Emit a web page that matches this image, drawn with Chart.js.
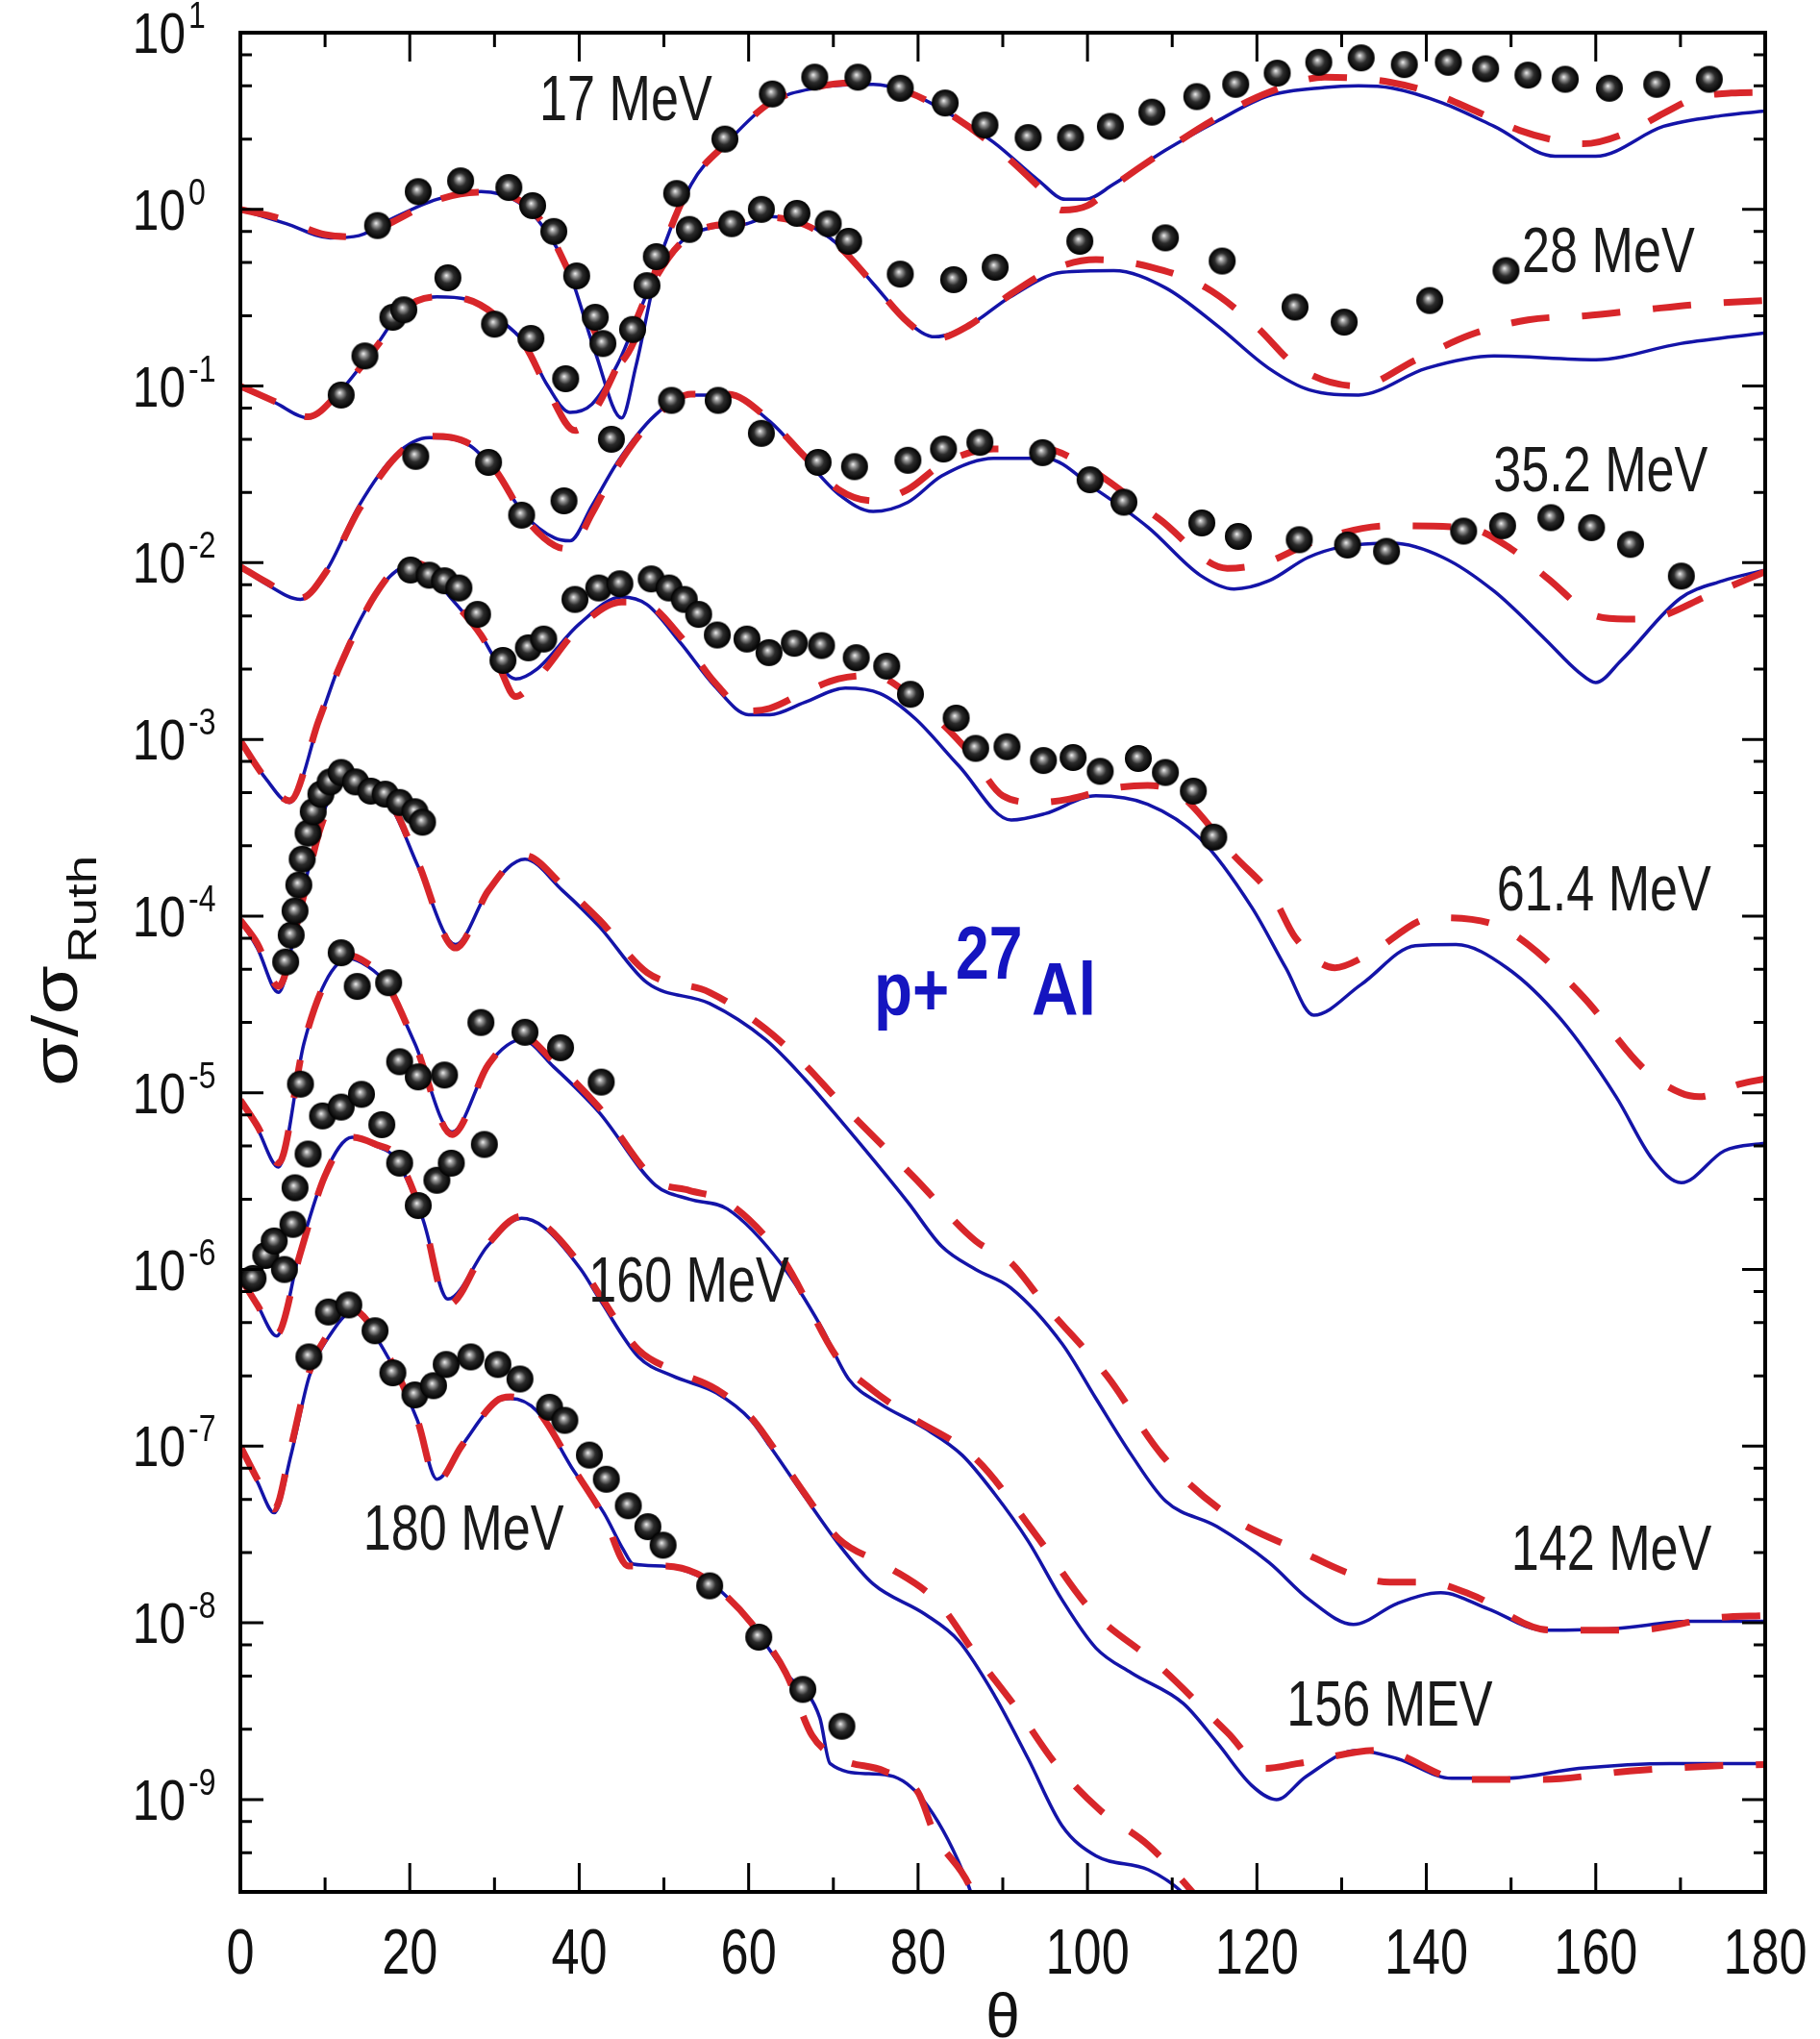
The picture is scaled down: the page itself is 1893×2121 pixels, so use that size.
<!DOCTYPE html>
<html>
<head>
<meta charset="utf-8">
<script src="https://cdn.jsdelivr.net/npm/chart.js@4.4.0/dist/chart.umd.min.js"></script>
<style>
  html, body { margin: 0; padding: 0; background: #fff; }
  canvas { display: block; }
</style>
</head>
<body>
<canvas id="xsChart" width="1893" height="2121"></canvas>
<script>
// p + 27Al elastic scattering, sigma/sigma_Ruth vs theta (each energy shifted by a decade)
// pairs are [theta (deg), sigma/sigmaRuth]

// 17 MeV
const exp17 = [[16.2,0.81],[21,1.26],[26,1.45],[31.7,1.33],[34.5,1.05],[37,0.75],[39.7,0.42],[41.9,0.245],[42.8,0.174],[51.5,1.23],[57.2,2.5],[62.8,4.5],[67.8,5.6],[72.9,5.6],[77.9,4.85],[83.2,4.0],[87.9,3.0],[93,2.55],[98,2.55],[102.7,2.95],[107.6,3.55],[112.9,4.35],[117.5,5.1],[122.4,5.9],[127.3,6.8],[132.3,7.2],[137.4,6.6],[142.6,6.8],[147,6.25],[152,5.75],[156.4,5.45],[161.6,4.85],[167.2,5.1],[173.4,5.45]];
const blue17 = [[0,1.0],[5.4,0.83],[10.6,0.69],[14,0.71],[18,0.89],[23.2,1.14],[28.4,1.26],[32.8,1.1],[35.8,0.79],[38.9,0.43],[41.9,0.155],[45,0.066],[46.7,0.13],[49.3,0.48],[53.2,1.38],[57.5,2.4],[62.5,4.0],[67.8,4.85],[74.7,5.1],[78.8,4.6],[83.6,3.5],[88.9,2.4],[94.2,1.46],[97.4,1.14],[99.8,1.14],[103,1.38],[109.2,2.16],[115.3,3.16],[121.4,4.4],[128,4.9],[132,5.0],[136,4.85],[141.9,4.0],[148,2.95],[155.2,2.0],[160,2.0],[168,2.95],[175,3.4],[180,3.6]];
const red17 = [[0,1.0],[5,0.88],[10,0.72],[14,0.7],[18,0.85],[23,1.12],[28,1.25],[33,1.12],[36,0.8],[39,0.42],[41.9,0.2],[44,0.13],[46.5,0.18],[49.3,0.5],[53.2,1.4],[57.5,2.4],[62.5,4.0],[67.8,4.9],[72,5.2],[78.8,4.6],[83.6,3.5],[88.9,2.3],[94.2,1.35],[97,0.99],[100,1.05],[103,1.35],[109.2,2.16],[115.3,3.3],[121.4,4.6],[128,5.6],[135.7,5.25],[141,4.5],[145.8,3.6],[151,2.8],[155.4,2.45],[158.5,2.35],[164.3,2.8],[168,3.5],[172,4.3],[176,4.55],[180,4.6]];

// 28 MeV (x 0.1)
const exp28 = [[11.9,0.089],[14.7,0.148],[18,0.245],[19.3,0.27],[24.5,0.41],[30,0.224],[34.3,0.186],[38.4,0.11],[46.3,0.209],[48,0.37],[49.1,0.54],[53,0.77],[58,0.83],[61.5,1.0],[65.7,0.95],[69.4,0.83],[71.8,0.66],[77.9,0.43],[84.2,0.4],[89.1,0.47],[99.1,0.66],[109.2,0.69],[115.9,0.51],[124.5,0.28],[130.3,0.23],[140.4,0.305],[149.4,0.45]];
const blue28 = [[0,0.098],[4,0.081],[8,0.066],[11.9,0.095],[16.2,0.174],[19.2,0.275],[23.2,0.32],[26.7,0.31],[30.2,0.245],[33.6,0.174],[36.3,0.1],[38.9,0.071],[41.5,0.079],[44.5,0.132],[48.9,0.41],[53.2,0.72],[59.8,0.83],[62.5,0.91],[66.6,0.83],[70.6,0.63],[74.7,0.38],[78.8,0.23],[82,0.19],[86,0.22],[90.9,0.32],[97,0.44],[103.1,0.45],[109.2,0.36],[115.3,0.22],[121.4,0.126],[126.2,0.095],[132,0.089],[140,0.126],[148,0.148],[160,0.141],[170,0.174],[180,0.2]];
const red28 = [[0,0.1],[4,0.082],[8,0.067],[11.9,0.095],[16.2,0.17],[19.2,0.27],[23.2,0.32],[26.7,0.31],[30.2,0.25],[33.6,0.17],[36.3,0.095],[39.5,0.056],[42,0.075],[44.5,0.13],[48.9,0.4],[53.2,0.72],[59.8,0.85],[62.5,0.9],[66.6,0.82],[70.6,0.62],[74.7,0.38],[78.8,0.23],[82,0.185],[86,0.22],[90.9,0.33],[96,0.46],[101,0.52],[107.6,0.47],[114,0.36],[119.8,0.22],[125,0.126],[132,0.1],[138.8,0.141],[145.2,0.195],[152,0.237],[158.8,0.25],[165.6,0.27],[172,0.29],[180,0.305]];

// 35.2 MeV (x 0.01)
const exp35 = [[20.7,0.04],[29.3,0.037],[33.2,0.0186],[38.2,0.0224],[43.8,0.05],[50.9,0.083],[56.4,0.083],[61.5,0.054],[68.2,0.037],[72.5,0.035],[78.8,0.038],[83,0.044],[87.3,0.048],[94.7,0.042],[100.3,0.0295],[104.3,0.022],[113.5,0.0168],[117.8,0.0141],[125,0.0135],[130.7,0.0126],[135.3,0.0116],[144.4,0.0151],[149,0.0162],[154.7,0.018],[159.5,0.0158],[164.1,0.0127],[170.1,0.0084]];
const blue35 = [[0,0.0095],[3,0.0076],[7.1,0.0062],[10.2,0.0091],[14,0.021],[18.4,0.041],[22.3,0.051],[27.1,0.046],[30.2,0.032],[33.6,0.0186],[37.1,0.0138],[38.9,0.0133],[41.5,0.021],[44.5,0.037],[48.9,0.068],[53.2,0.089],[57.5,0.089],[62.5,0.063],[66.6,0.039],[70.6,0.0245],[74.7,0.0195],[78.8,0.022],[82.8,0.031],[88.9,0.039],[95,0.039],[101,0.026],[107.2,0.0158],[113.3,0.0085],[117.3,0.0071],[121.4,0.0079],[126,0.0107],[130,0.0123],[136,0.0129],[142,0.0107],[148,0.0069],[154,0.0037],[158,0.0024],[160,0.0021],[163,0.0028],[170,0.0063],[175,0.0079],[180,0.0091]];
const red35 = [[0,0.0095],[3,0.0078],[7.1,0.0063],[10.2,0.009],[14,0.02],[18.4,0.04],[22.3,0.052],[27.1,0.047],[30.2,0.033],[33.6,0.018],[37.1,0.0125],[38.9,0.012],[41.5,0.019],[44.5,0.035],[48.9,0.066],[53.2,0.09],[57.5,0.09],[62.5,0.064],[66.6,0.04],[70.6,0.026],[74.7,0.0224],[78.8,0.026],[82.8,0.036],[88.9,0.044],[95,0.044],[99,0.037],[108.4,0.0178],[116.5,0.0093],[121,0.01],[126.8,0.0132],[135.5,0.0162],[144.8,0.0158],[150,0.012],[154.4,0.0081],[160,0.005],[163.6,0.0048],[167,0.0049],[173.2,0.0065],[180,0.0089]];

// 61.4 MeV (x 0.001)
const exp61 = [[20.1,0.0091],[22.3,0.0085],[24.1,0.0079],[25.8,0.0072],[28,0.0051],[31,0.0028],[34,0.0033],[35.8,0.0037],[39.5,0.0062],[42.3,0.0072],[44.8,0.0076],[48.5,0.0081],[50.6,0.0072],[52.4,0.0062],[54.1,0.0051],[56.3,0.0039],[59.8,0.0037],[62.4,0.0031],[65.4,0.0035],[68.6,0.0034],[72.7,0.0029],[76.3,0.0026],[79.1,0.0018],[84.5,0.00132],[86.8,0.00089],[90.5,0.00091],[94.8,0.00076],[98.3,0.00079],[101.5,0.00066],[106,0.00078],[109.2,0.00065],[112.5,0.00051],[114.9,0.00028]];
const blue61 = [[0,9.8e-4],[3,6.0e-4],[5.8,4.4e-4],[9.3,1.26e-3],[11.9,2.8e-3],[16.2,6.9e-3],[19.7,9.5e-3],[22,8.9e-3],[25,6.2e-3],[28.4,3.9e-3],[30.2,2.8e-3],[32.5,2.2e-3],[35,2.5e-3],[40,4.5e-3],[45,6.4e-3],[48,5.8e-3],[52,3.5e-3],[56,2.0e-3],[60,1.38e-3],[62.5,1.38e-3],[66.6,1.62e-3],[71.4,1.95e-3],[75.5,1.82e-3],[79.6,1.32e-3],[84.8,7.1e-4],[91,3.5e-4],[95,3.8e-4],[101,4.8e-4],[107.1,4.3e-4],[113.3,2.75e-4],[119.4,1.12e-4],[123.4,5.1e-5],[126.7,2.75e-5],[132.3,4.1e-5],[138.7,6.8e-5],[143.5,6.9e-5],[149.5,5.1e-5],[155.9,2.6e-5],[162.4,9.5e-6],[166.7,4.2e-6],[170.1,3.1e-6],[175.2,4.7e-6],[180,5.2e-6]];
const red61 = [[0,9.8e-4],[3,6.0e-4],[5.8,4.5e-4],[9.3,1.3e-3],[11.9,2.7e-3],[16.2,6.9e-3],[19.7,1.0e-2],[22,9.5e-3],[25,6.2e-3],[28.4,3.9e-3],[30.5,2.6e-3],[32.5,1.75e-3],[35,2.2e-3],[40,4.3e-3],[45,6.0e-3],[48,5.8e-3],[52,3.8e-3],[56,2.1e-3],[60,1.45e-3],[62.5,1.5e-3],[66.6,1.85e-3],[70.6,2.2e-3],[74.6,2.3e-3],[80.8,1.5e-3],[86,8.5e-4],[90,4.8e-4],[94,4.4e-4],[97.9,4.6e-4],[103,5.3e-4],[107.1,5.5e-4],[111,4.8e-4],[117.3,2.2e-4],[122,1.26e-4],[124.5,7.6e-5],[129.2,5.1e-5],[133,6.0e-5],[140.9,9.8e-5],[148.2,8.9e-5],[152,6.9e-5],[158.5,3.5e-5],[165.8,1.35e-5],[170,1.0e-5],[172.2,9.5e-6],[177,1.12e-5],[180,1.2e-5]];

// 142 MeV (x 1e-4)
const exp142 = [[5.35,5.5e-5],[6.0,7.8e-5],[6.45,1.07e-4],[6.9,1.5e-4],[7.3,2.1e-4],[8.0,2.95e-4],[8.6,3.9e-4],[9.5,4.9e-4],[10.6,5.75e-4],[11.9,6.5e-4],[13.6,5.75e-4],[15.4,5.1e-4],[17.1,4.9e-4],[18.8,4.4e-4],[20.6,3.9e-4],[21.5,3.4e-4]];
const blue142 = [[0,9.5e-5],[2,6.6e-5],[4.5,3.7e-5],[7,1.12e-4],[9.5,3.5e-4],[12.8,6.5e-4],[15,5.6e-4],[18,4.0e-4],[21,1.9e-4],[25.4,6.9e-5],[29.3,1.4e-4],[33.6,2.1e-4],[38,1.4e-4],[42.4,8.7e-5],[48,4.2e-5],[55.4,3.2e-5],[62,2.0e-5],[66.6,1.2e-5],[70.6,7.2e-6],[78.8,2.4e-6],[82.8,1.35e-6],[86.8,1.0e-6],[90.9,7.9e-7],[97,3.8e-7],[101,1.86e-7],[105.2,8.9e-8],[109.2,4.9e-8],[115.3,3.5e-8],[121.4,2.2e-8],[126.2,1.35e-8],[131.4,9.8e-9],[136.6,1.29e-8],[141.7,1.48e-8],[147.3,1.2e-8],[153.8,9.1e-9],[162.4,9.3e-9],[171,1.02e-8],[180,1.02e-8]];
const red142 = [[0,9.5e-5],[2,7.0e-5],[4.5,4.0e-5],[7,1.05e-4],[9.5,3.2e-4],[12.8,6.3e-4],[15,5.8e-4],[18,4.2e-4],[21,2.0e-4],[25.4,6.6e-5],[29.3,1.4e-4],[33.6,2.2e-4],[38,1.5e-4],[42.4,9.5e-5],[48,4.8e-5],[55.4,3.7e-5],[62,2.3e-5],[66.6,1.45e-5],[70.6,9.0e-6],[79.6,3.3e-6],[86.8,1.45e-6],[90.9,1.1e-6],[95,6.3e-7],[102.3,2.5e-7],[108.8,8.9e-8],[116.5,4.1e-8],[125.5,2.5e-8],[131,1.9e-8],[135.7,1.7e-8],[140,1.7e-8],[145.2,1.45e-8],[154.6,9.1e-9],[164.5,9.1e-9],[174.4,1.07e-8],[180,1.1e-8]];

// 156 MeV (x 1e-5)
const exp156 = [[7.1,1.12e-5],[11.9,6.2e-5],[13.8,4.0e-5],[17.5,4.2e-5],[18.8,1.5e-5],[21,1.23e-5],[24.1,1.26e-5],[28.4,2.5e-5],[33.6,2.2e-5],[37.8,1.8e-5],[42.6,1.15e-5]];
const blue156 = [[0,9.1e-6],[2,6.3e-6],[4.5,3.8e-6],[7.5,1.9e-5],[10,4.2e-5],[12.8,5.75e-5],[15,5.2e-5],[17.1,4.2e-5],[20.6,1.9e-5],[25,6.0e-6],[29.3,1.45e-5],[33.2,2.0e-5],[37,1.4e-5],[42.3,7.8e-6],[49,3.0e-6],[53,2.5e-6],[57.5,2.2e-6],[64,1.05e-6],[68.6,4.7e-7],[71.8,2.4e-7],[75.5,1.74e-7],[80.8,1.26e-7],[85.2,8.9e-8],[89,5.4e-8],[93,2.9e-8],[97,1.35e-8],[101,7.2e-9],[105.2,5.2e-9],[111.3,3.5e-9],[115.3,2.1e-9],[119.4,1.2e-9],[122.3,1.0e-9],[125.8,1.35e-9],[131.8,1.9e-9],[136.6,1.7e-9],[143,1.32e-9],[149.5,1.32e-9],[158,1.5e-9],[168.8,1.6e-9],[180,1.6e-9]];
const red156 = [[0,9.1e-6],[2,6.5e-6],[4.5,4.0e-6],[7.5,1.9e-5],[10,4.2e-5],[12.8,6.0e-5],[15,5.4e-5],[17.1,4.3e-5],[20.6,1.9e-5],[25,5.8e-6],[29.3,1.45e-5],[33.2,2.1e-5],[37,1.5e-5],[42.3,8.3e-6],[49,3.2e-6],[53,2.8e-6],[57.5,2.4e-6],[64,1.15e-6],[70.6,3.1e-7],[74.5,2.1e-7],[78.8,1.5e-7],[86.8,8.5e-8],[93.8,3.2e-8],[100.3,1.2e-8],[108.4,5.75e-9],[116.5,2.4e-9],[121,1.5e-9],[124.9,1.6e-9],[134.4,1.9e-9],[144.3,1.3e-9],[153.8,1.3e-9],[164,1.45e-9],[174,1.55e-9],[180,1.58e-9]];

// 160 MeV (x 1e-6)
const exp160 = [[1.5,8.9e-7],[3.0,1.2e-6],[4.0,1.45e-6],[5.2,1.0e-6],[6.2,1.8e-6],[6.45,2.9e-6],[8,4.5e-6],[9.7,7.4e-6],[11.9,8.3e-6],[14.3,9.8e-6],[16.7,6.6e-6],[18.8,4.0e-6],[21,2.3e-6],[23.2,3.2e-6],[24.9,4.0e-6],[28.8,5.1e-6]];
const blue160 = [[0,8.9e-7],[2,6.3e-7],[4.3,4.2e-7],[7,1.26e-6],[10,3.5e-6],[13.2,5.6e-6],[16,5.0e-6],[18.4,4.2e-6],[21.5,1.95e-6],[24.5,6.8e-7],[29.3,1.38e-6],[33.2,1.95e-6],[35.8,1.74e-6],[40.2,1.0e-6],[42.4,6.8e-7],[47,3.2e-7],[51,2.5e-7],[56.2,2.0e-7],[60.3,1.4e-7],[62.5,1.0e-7],[66.6,5.2e-8],[70.6,2.8e-8],[74.7,1.66e-8],[80.8,1.12e-8],[84.8,7.9e-9],[89,3.9e-9],[93,1.7e-9],[97,7.1e-10],[101,4.8e-10],[107.2,4.0e-10],[111.3,2.95e-10],[115,1.8e-10]];
const red160 = [[0,9.0e-7],[2,6.3e-7],[4.3,4.3e-7],[7,1.2e-6],[10,3.4e-6],[13.2,5.6e-6],[16,5.1e-6],[18.4,4.4e-6],[21.5,2.0e-6],[24.5,6.3e-7],[29.3,1.4e-6],[33.2,2.0e-6],[35.8,1.8e-6],[40.2,1.05e-6],[42.4,7.2e-7],[47,3.5e-7],[51,2.7e-7],[56.2,2.1e-7],[60.3,1.45e-7],[62.5,1.05e-7],[66.6,5.4e-8],[70.6,3.0e-8],[76.3,2.1e-8],[82.4,1.3e-8],[86.8,6.6e-9],[91.8,3.2e-9],[96.2,1.6e-9],[101.5,8.7e-10],[107.2,5.5e-10],[112.5,2.95e-10],[116,1.8e-10]];

// 180 MeV (x 1e-7)
const exp180 = [[8.1,3.2e-7],[10.4,5.75e-7],[12.8,6.3e-7],[15.9,4.5e-7],[18,2.6e-7],[20.6,1.95e-7],[22.8,2.2e-7],[24.3,2.9e-7],[27.2,3.2e-7],[30.4,2.9e-7],[33,2.4e-7],[36.5,1.66e-7],[38.3,1.4e-7],[41.2,8.9e-8],[43.2,6.5e-8],[45.8,4.6e-8],[48.1,3.5e-8],[49.9,2.75e-8],[55.4,1.62e-8],[61.2,8.3e-9],[66.4,4.2e-9],[71,2.6e-9]];
const blue180 = [[0,1.0e-7],[2,6.3e-8],[4,4.2e-8],[6,9.0e-8],[8.1,2.45e-7],[10.5,4.2e-7],[13.3,5.75e-7],[16.8,3.6e-7],[20.9,1.4e-7],[23.2,6.5e-8],[26.1,1.0e-7],[30.2,1.78e-7],[31.9,1.86e-7],[35,1.58e-7],[39.4,7.2e-8],[42.9,4.2e-8],[45.2,2.6e-8],[46.4,2.15e-8],[49.8,2.1e-8],[53.9,1.86e-8],[56.8,1.5e-8],[60.3,9.8e-9],[64.4,5.2e-9],[68.4,2.9e-9],[69.6,1.6e-9],[74.2,1.4e-9],[77.1,1.35e-9],[81.2,9.1e-10],[85.8,3.4e-10],[88,1.6e-10]];
const red180 = [[0,1.0e-7],[2,6.5e-8],[4,4.4e-8],[6,1.0e-7],[8.1,2.6e-7],[10.5,4.4e-7],[13.3,5.9e-7],[16.8,3.7e-7],[20.9,1.4e-7],[23.2,6.3e-8],[26.1,1.0e-7],[30.2,1.8e-7],[31.9,1.9e-7],[35,1.6e-7],[39.4,7.4e-8],[42.9,4.0e-8],[45.8,2.1e-8],[49.9,2.1e-8],[53.9,1.9e-8],[56.8,1.5e-8],[60.3,1.0e-8],[64.4,5.2e-9],[67.5,2.3e-9],[70.8,1.7e-9],[76,1.45e-9],[80,1.1e-9],[82,6.3e-10],[86,3.3e-10],[88,1.8e-10]];

const energies = ['17 MeV', '28 MeV', '35.2 MeV', '61.4 MeV', '142 MeV', '156 MEV', '160 MeV', '180 MeV'];
const expSets = [exp17, exp28, exp35, exp61, exp142, exp156, exp160, exp180];
const blueSets = [blue17, blue28, blue35, blue61, blue142, blue156, blue160, blue180];
const redSets = [red17, red28, red35, red61, red142, red156, red160, red180];

const xTicks = [0, 20, 40, 60, 80, 100, 120, 140, 160, 180];
const yDecades = [1, 0, -1, -2, -3, -4, -5, -6, -7, -8, -9];

// where each energy label sits, in (theta, sigma)
const labelAnchors = [[35.3, 3.2], [151.3, 0.44], [147.9, 0.0254], [148.3, 1.08e-4], [150.0, 2.0e-8], [123.5, 2.62e-9], [41.1, 6.6e-7], [14.5, 2.6e-8]];

const BLUE = '#1414a8';
const RED = '#d8262a';
const FONT = "'Liberation Sans', Arial, sans-serif";

function toXY(pairs) {
    return pairs.map(p => ({ x: p[0], y: p[1] }));
}

// shaded black ball used for the measured points
function makeSphere(r) {
    const c = document.createElement('canvas');
    c.width = c.height = 2 * r + 2;
    const g = c.getContext('2d');
    const cx = r + 1, cy = r + 1;
    const grad = g.createRadialGradient(cx - r * 0.12, cy - r * 0.18, 0, cx, cy, r);
    grad.addColorStop(0, '#f2f2f2');
    grad.addColorStop(0.2, '#9a9a9a');
    grad.addColorStop(0.5, '#2c2c2c');
    grad.addColorStop(1, '#000');
    g.fillStyle = grad;
    g.beginPath();
    g.arc(cx, cy, r, 0, Math.PI * 2);
    g.fill();
    return c;
}

const sphere = makeSphere(14);

const datasets = [];
energies.forEach((name, i) => {
    datasets.push({
        label: name + ' exp',
        data: toXY(expSets[i]),
        showLine: false,
        pointStyle: sphere,
        pointRadius: 14,
        order: 0
    });
    datasets.push({
        label: name + ' dashed',
        data: toXY(redSets[i]),
        borderColor: RED,
        borderWidth: 7,
        borderDash: [40, 34],
        pointRadius: 0,
        cubicInterpolationMode: 'monotone',
        fill: false,
        order: 1
    });
    datasets.push({
        label: name + ' solid',
        data: toXY(blueSets[i]),
        borderColor: BLUE,
        borderWidth: 3.5,
        pointRadius: 0,
        cubicInterpolationMode: 'monotone',
        fill: false,
        order: 2
    });
});

function squeezedText(ctx, text, x, y, sx, align) {
    ctx.save();
    ctx.translate(x, y);
    ctx.scale(sx, 1);
    ctx.textAlign = align;
    ctx.fillText(text, 0, 0);
    ctx.restore();
}

// frame with inward ticks, tick labels, titles and annotations
const decorPlugin = {
    id: 'decor',
    afterDatasetsDraw(chart) {
        const { ctx, chartArea: a, scales: { x, y } } = chart;
        ctx.save();
        ctx.strokeStyle = '#000';
        ctx.lineWidth = 4;
        ctx.strokeRect(a.left, a.top, a.right - a.left, a.bottom - a.top);

        ctx.lineWidth = 3;
        ctx.beginPath();
        for (let t = 0; t <= 180; t += 10) {
            const px = x.getPixelForValue(t);
            const len = t % 20 === 0 ? 30 : 15;
            ctx.moveTo(px, a.bottom); ctx.lineTo(px, a.bottom - len);
            ctx.moveTo(px, a.top); ctx.lineTo(px, a.top + len);
        }
        for (let e = -10; e <= 1; e++) {
            [1, 2.5, 5, 7.5].forEach(m => {
                const v = m * Math.pow(10, e);
                if (v < y.min || v > y.max * 1.0001) return;
                const py = y.getPixelForValue(v);
                const len = m === 1 ? 24 : 12;
                ctx.moveTo(a.left, py); ctx.lineTo(a.left + len, py);
                ctx.moveTo(a.right, py); ctx.lineTo(a.right - len, py);
            });
        }
        ctx.stroke();

        ctx.fillStyle = '#111';
        ctx.textBaseline = 'alphabetic';

        // x tick labels
        ctx.font = '67px ' + FONT;
        xTicks.forEach(t => {
            squeezedText(ctx, String(t), x.getPixelForValue(t), a.bottom + 85, 0.78, 'center');
        });

        // y tick labels 10^n
        yDecades.forEach(e => {
            const py = y.getPixelForValue(Math.pow(10, e));
            ctx.font = '59px ' + FONT;
            squeezedText(ctx, '10', a.left - 57, py + 21, 0.84, 'right');
            ctx.font = '38px ' + FONT;
            squeezedText(ctx, String(e), a.left - 54, py - 5, 0.84, 'left');
        });

        // axis titles
        ctx.font = '64px ' + FONT;
        squeezedText(ctx, '\u03B8', x.getPixelForValue(90), 2119, 1, 'center');

        ctx.save();
        ctx.translate(80, 1130);
        ctx.rotate(-Math.PI / 2);
        ctx.scale(1.26, 1);
        ctx.font = '66px ' + FONT;
        ctx.textAlign = 'left';
        ctx.fillText('\u03C3/\u03C3', 0, 0);
        const w = ctx.measureText('\u03C3/\u03C3').width;
        ctx.font = '42px ' + FONT;
        ctx.fillText('Ruth', w + 2, 20);
        ctx.restore();

        // energy labels
        ctx.fillStyle = '#1a1a1a';
        ctx.font = '66px ' + FONT;
        energies.forEach((name, i) => {
            const [th, s] = labelAnchors[i];
            squeezedText(ctx, name, x.getPixelForValue(th), y.getPixelForValue(s), 0.79, 'left');
        });

        // reaction label
        const rx = x.getPixelForValue(74.8);
        const ry = y.getPixelForValue(2.75e-5);
        ctx.fillStyle = '#1515c0';
        ctx.font = 'bold 78px ' + FONT;
        squeezedText(ctx, 'p+', rx, ry, 0.84, 'left');
        squeezedText(ctx, '27', rx + 85, ry - 38, 0.8, 'left');
        squeezedText(ctx, 'Al', rx + 164, ry, 0.86, 'left');

        ctx.restore();
    }
};

new Chart(document.getElementById('xsChart'), {
    type: 'line',
    data: { datasets: datasets },
    options: {
        responsive: false,
        animation: false,
        devicePixelRatio: 1,
        events: [],
        layout: { padding: { left: 250, right: 57, top: 34, bottom: 153 } },
        plugins: {
            legend: { display: false },
            tooltip: { enabled: false }
        },
        scales: {
            x: { type: 'linear', min: 0, max: 180, display: false },
            y: { type: 'logarithmic', min: 3.0e-10, max: 10, display: false }
        }
    },
    plugins: [decorPlugin]
});
</script>
</body>
</html>
